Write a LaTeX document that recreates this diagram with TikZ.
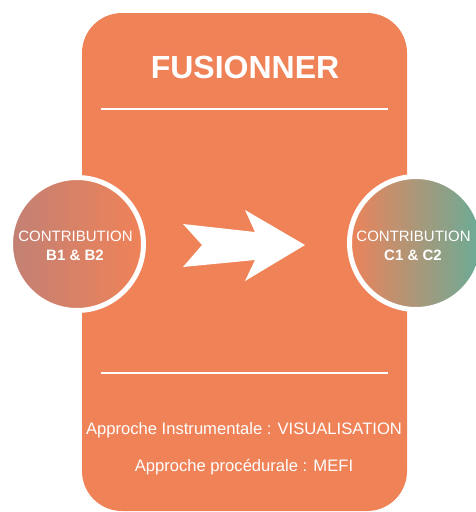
\documentclass[tikz,border=0pt]{standalone}
\usepackage{fontspec}
\setmainfont{Liberation Sans}
\definecolor{orangebg}{RGB}{240,130,88}
\definecolor{leftA}{RGB}{194,129,116}
\definecolor{leftB}{RGB}{240,130,88}
\definecolor{rightA}{RGB}{236,131,90}
\definecolor{rightB}{RGB}{104,172,152}
\tikzset{
  panel/.style={fill=orangebg, rounded corners=40pt, minimum width=325pt, minimum height=498pt, inner sep=0pt, draw=none},
  contrib/.style={circle, minimum size=133pt, inner sep=0pt, draw=white, line width=5pt},
  ctext/.style={text=white, anchor=base, inner sep=0pt, font=\fontsize{15}{18}\selectfont},
  btext/.style={text=white, anchor=base, inner sep=0pt, font=\bfseries\fontsize{15}{18}\selectfont},
  rule/.style={draw=white, line width=2pt},
  bodytext/.style={text=white, anchor=base, inner sep=0pt, font=\fontsize{16.6}{20}\selectfont}
}
\begin{document}
\begin{tikzpicture}[x=1pt,y=-1pt]
\useasboundingbox (0,0) rectangle (475,512);
\node[panel] (box) at (244.5,262) {};
\node[text=white, anchor=base, inner sep=0pt, font=\bfseries\fontsize{32}{36}\selectfont] (title) at (245,78.5) {FUSIONNER};
\coordinate (r1a) at (101,109);
\coordinate (r1b) at (388,109);
\coordinate (r2a) at (101,373);
\coordinate (r2b) at (388,373);
\draw[rule] (r1a) -- (r1b);
\draw[rule] (r2a) -- (r2b);
\node[contrib, left color=leftA, right color=leftB] (cb) at (77,244) {};
\node[contrib, left color=rightA, right color=rightB] (cc) at (416,243) {};
\node[ctext] (cbt1) at (75.5,241.4) {CONTRIBUTION};
\node[btext] (cbt2) at (75,260.4) {B1 \& B2};
\node[ctext] (cct1) at (413.5,241.4) {CONTRIBUTION};
\node[btext] (cct2) at (413,260.4) {C1 \& C2};
\fill[white] (183,224) -- (255,232) -- (245,210) -- (305,245) -- (245,281) -- (255,260) -- (183,267) -- (202,245) -- cycle;
\node[bodytext] (t1) at (244,434) {Approche Instrumentale : VISUALISATION};
\node[bodytext] (t2) at (244,471) {Approche procédurale : MEFI};
\end{tikzpicture}
\end{document}
